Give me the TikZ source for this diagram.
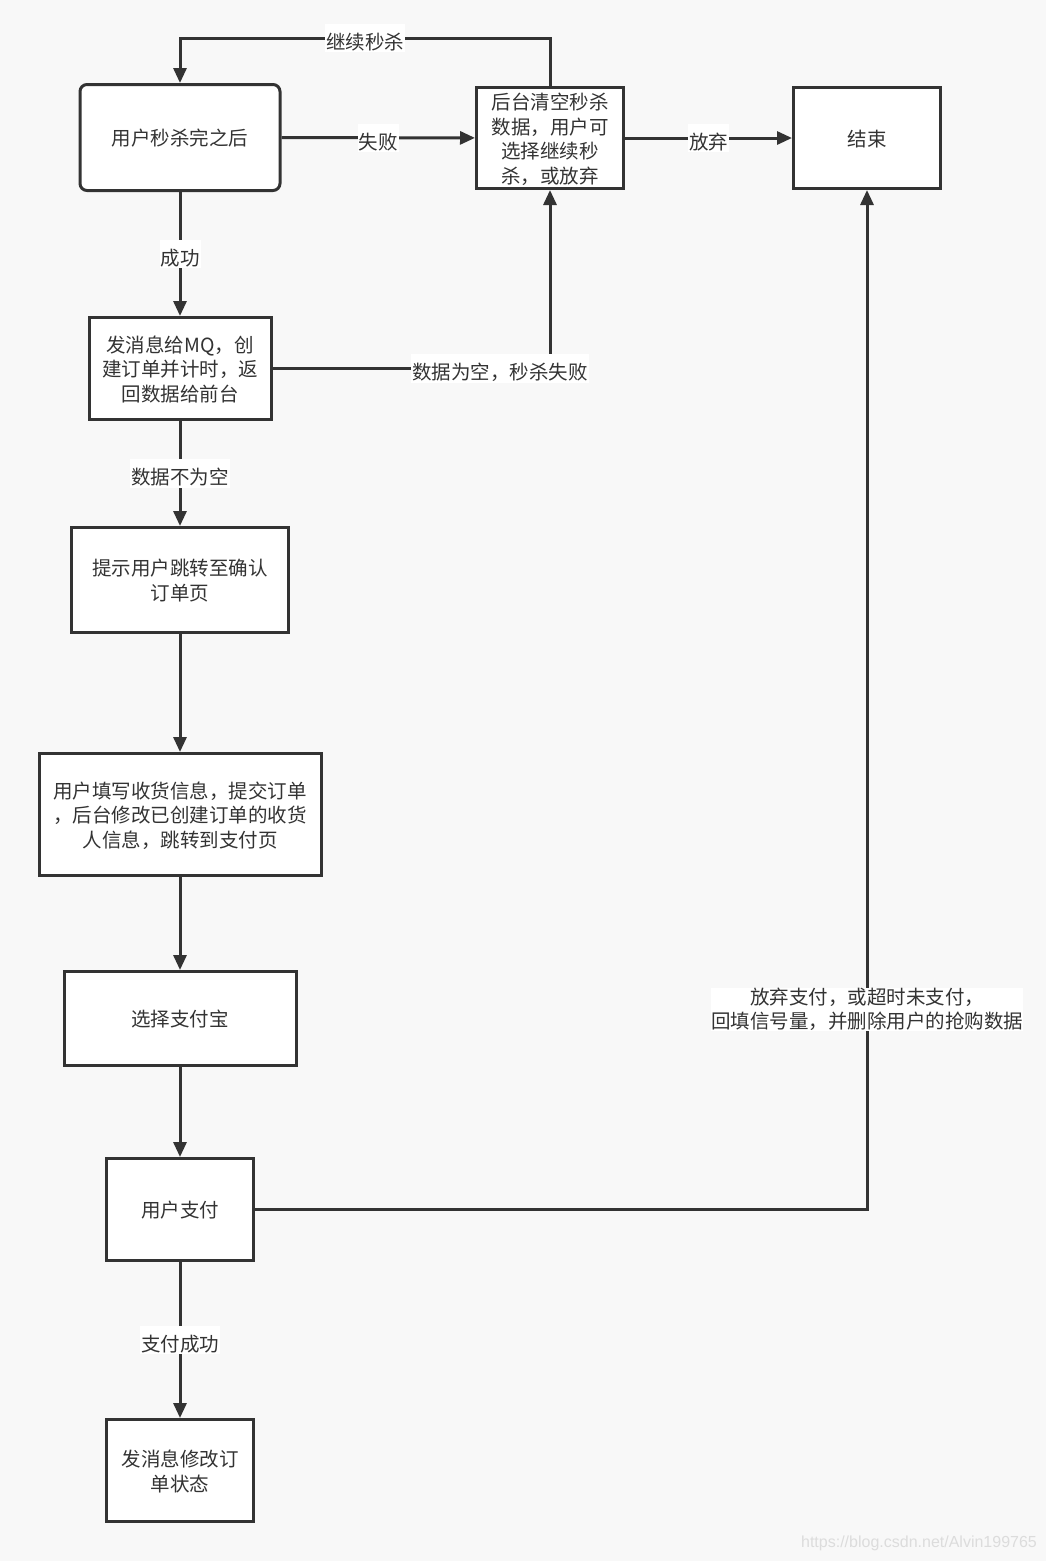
\documentclass[tikz,border=0pt]{standalone}
\usepackage{fontspec}
\setmainfont{Noto Sans CJK SC}
\newfontfamily\wmfont{Liberation Sans}
\usetikzlibrary{arrows.meta}

\definecolor{ink}{HTML}{333333}
\definecolor{paper}{HTML}{F8F8F8}
\definecolor{faint}{HTML}{DCDCDC}

\tikzset{
  lower/.style={execute at begin node={\rule{0pt}{24.5pt}}}, % text sits a bit low
  box/.style={draw=ink,line width=3pt,fill=white,text=ink,align=center,inner sep=0pt,text depth=-10pt},
  flow/.style={draw=ink,line width=3pt,-{Triangle[length=15pt,width=13pt]}},
  lbl/.style={fill=white,text=ink,inner sep=1pt,align=center,lower},
}

\begin{document}
\begin{tikzpicture}[x=1pt,y=-1pt,font=\fontsize{19.5}{24.5}\selectfont]

  \path[fill=paper] (0,0) rectangle (1046,1561); % page

  % top row
  \node[box,rounded corners=7pt,minimum width=200pt,minimum height=106pt] (A) at (180,137.5) {用户秒杀完之后};
  \node[box,minimum width=147pt,minimum height=101pt] (B) at (550,138) {后台清空秒杀\\数据，用户可\\选择继续秒\\杀，或放弃};
  \node[box,minimum width=147pt,minimum height=101pt] (C) at (867,138) {结束};

  % main column
  \node[box,minimum width=182pt,minimum height=102pt] (D) at (180,368.5) {发消息给MQ，创\\建订单并计时，返\\回数据给前台};
  \node[box,minimum width=217pt,minimum height=105pt] (E) at (180,580) {提示用户跳转至确认\\订单页};
  \node[box,minimum width=282pt,minimum height=122pt] (F) at (180,814.5) {用户填写收货信息，提交订单\\，后台修改已创建订单的收货\\人信息，跳转到支付页};
  \node[box,minimum width=232pt,minimum height=94pt] (G) at (180,1018.5) {选择支付宝};
  \node[box,minimum width=147pt,minimum height=102pt] (H) at (180,1209.5) {用户支付};
  \node[box,minimum width=147pt,minimum height=102pt] (I) at (180,1470.5) {发消息修改订\\单状态};

  \coordinate (back) at (180,38); % loop back over the top

  \draw[flow] (A) -- node[lbl]{失败} (B);
  \draw[flow] (B) -- node[lbl]{放弃} (C);
  \draw[flow] (B.north) |- node[lbl,pos=0.75]{继续秒杀} (back) -- (A.north);
  \draw[flow] (A) -- node[lbl]{成功} (D);
  \draw[flow] (D.east) -| node[lbl,pos=0.41]{数据为空，秒杀失败} (B.south);
  \draw[flow] (D) -- node[lbl]{数据不为空} (E);
  \draw[flow] (E) -- (F);
  \draw[flow] (F) -- (G);
  \draw[flow] (G) -- (H);
  \draw[flow] (H) -- node[lbl]{支付成功} (I);
  \draw[flow] (H.east) -| node[lbl,pos=0.598,inner sep=0pt,font=\fontsize{19.5}{24}\selectfont]{放弃支付，或超时未支付，\\回填信号量，并删除用户的抢购数据} (C.south);

  \node[text=faint,font=\wmfont\fontsize{16}{16}\selectfont] (wm) at (919,1543) {https://blog.csdn.net/Alvin199765};

\end{tikzpicture}
\end{document}
